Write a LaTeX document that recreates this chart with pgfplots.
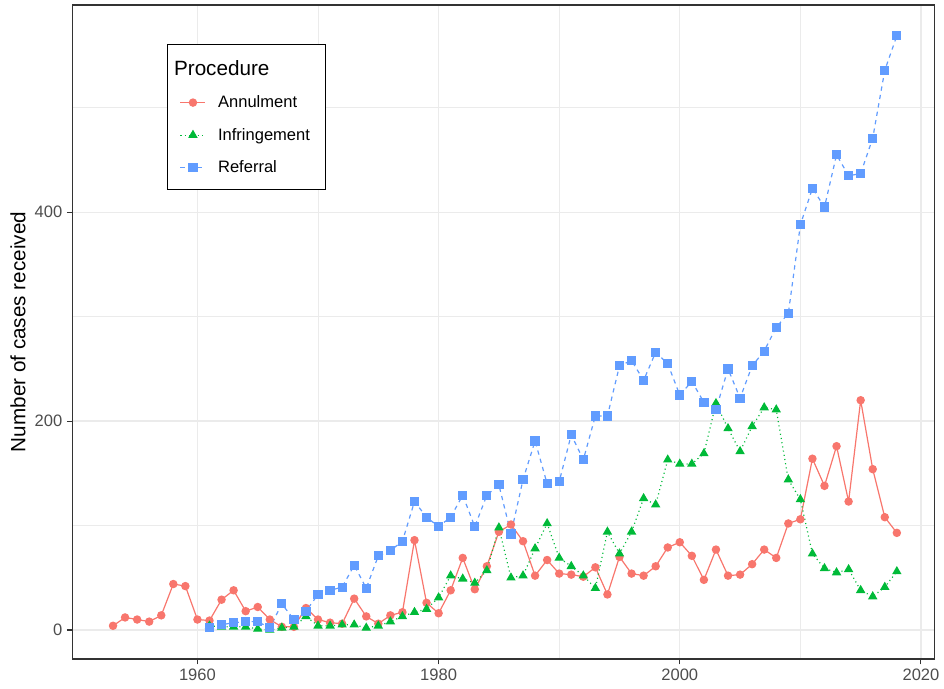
\documentclass[border=0pt]{standalone}
\usepackage{fontspec}
\setmainfont{Liberation Sans}
\usepackage{pgfplots}
\pgfplotsset{compat=1.18}
\definecolor{cA}{HTML}{F8766D}
\definecolor{cI}{HTML}{00BA38}
\definecolor{cR}{HTML}{619CFF}
\definecolor{gridc}{HTML}{EBEBEB}
\definecolor{tickc}{HTML}{4D4D4D}
\definecolor{borderc}{HTML}{333333}

\pgfplotstableread{
year val
1953 4
1954 12
1955 10
1956 8
1957 14
1958 44
1959 42
1960 10
1961 9
1962 29
1963 38
1964 18
1965 22
1966 10
1967 3
1968 3
1969 21
1970 10
1971 7
1972 6
1973 30
1974 13
1975 6
1976 14
1977 17
1978 86
1979 26
1980 16
1981 38
1982 69
1983 39
1984 61
1985 94
1986 101
1987 85
1988 52
1989 67
1990 54
1991 53
1992 51
1993 60
1994 34
1995 70
1996 54
1997 52
1998 61
1999 79
2000 84
2001 71
2002 48
2003 77
2004 52
2005 53
2006 63
2007 77
2008 69
2009 102
2010 106
2011 164
2012 138
2013 176
2014 123
2015 220
2016 154
2017 108
2018 93
}\annul

\pgfplotstableread{
year val
1961 4
1962 3
1963 3
1964 3
1965 1
1966 0
1967 2
1968 3
1969 13
1970 4
1971 4
1972 5
1973 5
1974 2
1975 4
1976 8
1977 13
1978 17
1979 20
1980 31
1981 52
1982 49
1983 45
1984 57
1985 98
1986 50
1987 52
1988 78
1989 102
1990 69
1991 61
1992 52
1993 40
1994 94
1995 73
1996 94
1997 126
1998 120
1999 163
2000 159
2001 159
2002 169
2003 217
2004 193
2005 171
2006 195
2007 213
2008 211
2009 144
2010 125
2011 73
2012 59
2013 55
2014 58
2015 38
2016 32
2017 41
2018 56
}\infr

\pgfplotstableread{
year val
1961 2
1962 5
1963 7
1964 8
1965 8
1966 2
1967 25
1968 10
1969 18
1970 34
1971 38
1972 41
1973 62
1974 40
1975 71
1976 76
1977 85
1978 123
1979 108
1980 99
1981 108
1982 129
1983 99
1984 129
1985 139
1986 92
1987 144
1988 181
1989 140
1990 142
1991 187
1992 163
1993 205
1994 205
1995 253
1996 258
1997 239
1998 266
1999 255
2000 225
2001 238
2002 218
2003 211
2004 250
2005 222
2006 253
2007 267
2008 290
2009 303
2010 388
2011 423
2012 405
2013 455
2014 435
2015 437
2016 471
2017 536
2018 569
}\refer

\begin{document}
\begin{tikzpicture}
\useasboundingbox (-54.2pt,-21.75pt) rectangle (653.8pt,494.25pt);
\begin{axis}[
  at={(0,0)}, anchor=south west,
  scale only axis, width=647pt, height=490.5pt,
  xmin=1949.62, xmax=2021.16, ymin=-27.8, ymax=598.5,
  xtick={1960,1980,2000,2020}, minor xtick={1970,1990,2010},
  ytick={0,200,400}, minor ytick={100,300,500},
  grid=both,
  major grid style={gridc, line width=1pt},
  minor grid style={gridc, line width=0.6pt},
  axis line style={borderc, line width=0.8pt},
  major tick style={borderc, line width=0.8pt},
  minor tick length=0pt,
  major tick length=4pt,
  tick align=outside,
  xtick pos=left, ytick pos=left,
  ticklabel style={font=\fontsize{12.4}{14}\selectfont, text=tickc},
  /pgf/number format/assume math mode=true,
  /pgf/number format/1000 sep={},
  ylabel={Number of cases received},
  ylabel style={font=\fontsize{15.5}{18}\selectfont, at={(axis description cs:-0.0629,0.5)}, anchor=center},
  legend style={at={(axis description cs:0.1094,0.940)}, anchor=north west,
    draw=black, line width=0.8pt, fill=white,
    font=\fontsize{12.4}{14}\selectfont,
    row sep=9.9pt, inner xsep=9.5pt, inner ysep=9.5pt,
    /tikz/every odd column/.append style={column sep=7pt}},
  legend cell align=left,
  legend image code/.code={\draw[mark repeat=2,mark phase=2,#1] plot coordinates {(0cm,0cm)(0.33cm,0cm)(0.66cm,0cm)};},
  legend image post style={line width=0.9pt},
]
\addlegendimage{empty legend}
\addlegendentry{\hspace{-33pt}\fontsize{15.5}{18}\selectfont Procedure}
\addplot[cA, line width=0.9pt, mark=*, mark size=2.7pt, mark options={solid, fill=cA, draw=cA}] table[x=year,y=val]{\annul};
\addlegendentry{Annulment}
\addplot[cI, line width=0.9pt, dash pattern=on 0.8pt off 2.4pt, mark=triangle*, mark size=3.2pt, mark options={solid, fill=cI, draw=cI}] table[x=year,y=val]{\infr};
\addlegendentry{Infringement}
\addplot[cR, line width=0.9pt, dash pattern=on 3.2pt off 3.2pt, mark=square*, mark size=3pt, mark options={solid, fill=cR, draw=cR}] table[x=year,y=val]{\refer};
\addlegendentry{Referral}
\end{axis}
\end{tikzpicture}
\end{document}
